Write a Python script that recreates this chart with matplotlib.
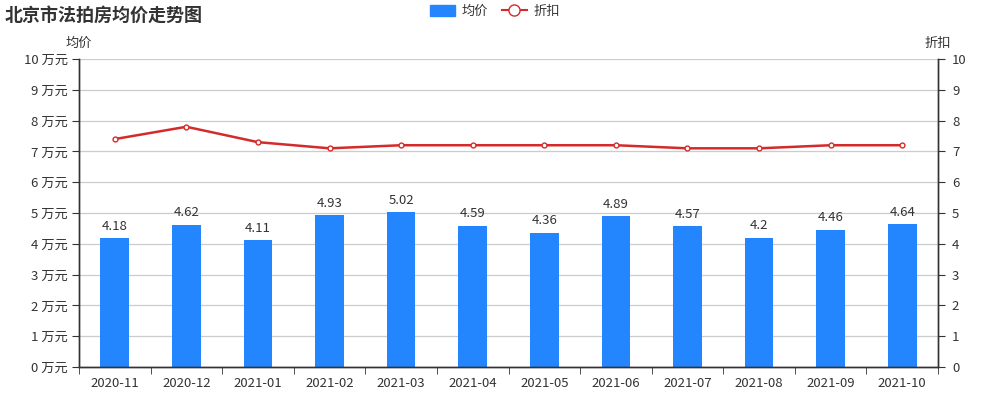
import matplotlib
matplotlib.use("Agg")
import matplotlib.pyplot as plt
from matplotlib.lines import Line2D
from matplotlib.patches import Patch
import numpy as np

plt.rcParams["font.family"] = ["Noto Sans CJK SC", "DejaVu Sans"]

# data
months = ["2020-11", "2020-12", "2021-01", "2021-02", "2021-03", "2021-04",
          "2021-05", "2021-06", "2021-07", "2021-08", "2021-09", "2021-10"]
avg_price = [4.18, 4.62, 4.11, 4.93, 5.02, 4.59, 4.36, 4.89, 4.57, 4.2, 4.46, 4.64]
discount = [7.4, 7.8, 7.3, 7.1, 7.2, 7.2, 7.2, 7.2, 7.1, 7.1, 7.2, 7.2]
price_labels = ["4.18", "4.62", "4.11", "4.93", "5.02", "4.59",
                "4.36", "4.89", "4.57", "4.2", "4.46", "4.64"]

BLUE = "#2486ff"
RED = "#d42a2a"
AXIS = "#333333"
TXT = "#333333"
FS = 9.5

fig = plt.figure(figsize=(10, 4), dpi=100)
ax = fig.add_axes([0.079, 0.0825, 0.859, 0.77])
ax2 = ax.twinx()

x = np.arange(len(months))
ax.bar(x, avg_price, width=0.4, color=BLUE, zorder=2)
for xi, v, lab in zip(x, avg_price, price_labels):
    ax.text(xi, v + 0.18, lab, ha="center", va="bottom", fontsize=FS, color=TXT)

ax2.plot(x, discount, color=RED, lw=1.8, marker="o", ms=3.5,
         markerfacecolor="white", markeredgecolor=RED, markeredgewidth=1, zorder=3)

ax.set_xlim(-0.5, len(months) - 0.5)
ax.set_ylim(0, 10)
ax2.set_ylim(0, 10)
ax.set_yticks(range(11))
ax.set_yticklabels([f"{i} 万元" for i in range(11)])
ax2.set_yticks(range(11))
ax.set_xticks(x)
ax.set_xticklabels(months)
ax.set_xticks(np.arange(-0.5, len(months)), minor=True)
ax.tick_params(axis="x", which="major", length=0, pad=7, labelsize=FS, labelcolor=TXT)
ax.tick_params(axis="x", which="minor", length=5, color=AXIS)
ax.tick_params(axis="y", length=5, labelsize=FS, labelcolor=TXT, color=AXIS, pad=3)
ax2.tick_params(axis="y", length=5, labelsize=FS, labelcolor=TXT, color=AXIS, pad=5)

ax.grid(axis="y", color="#cccccc", lw=0.9, zorder=0)
ax.set_axisbelow(True)
for a in (ax, ax2):
    a.spines["top"].set_visible(False)
    for s in ("left", "right", "bottom"):
        a.spines[s].set_color(AXIS)
        a.spines[s].set_linewidth(1)

ax.text(0, 1.03, "均价", transform=ax.transAxes, ha="center", va="bottom",
        fontsize=FS, color=TXT)
ax2.text(1, 1.03, "折扣", transform=ax2.transAxes, ha="center", va="bottom",
         fontsize=FS, color=TXT)

fig.text(0.005, 0.962, "北京市法拍房均价走势图", fontsize=13, fontweight="bold",
         color=TXT, ha="left", va="center")

handles = [Patch(facecolor=BLUE, edgecolor=BLUE),
           Line2D([0], [0], color=RED, lw=1.5, marker="o", ms=8,
                  markerfacecolor="white", markeredgecolor=RED)]
fig.legend(handles, ["均价", "折扣"], loc="center", bbox_to_anchor=(0.495, 0.972),
           ncol=2, frameon=False, fontsize=FS, handlelength=1.9, handleheight=0.9,
           columnspacing=1.0, handletextpad=0.5, labelcolor=TXT)

fig.savefig("out.png", dpi=100)
